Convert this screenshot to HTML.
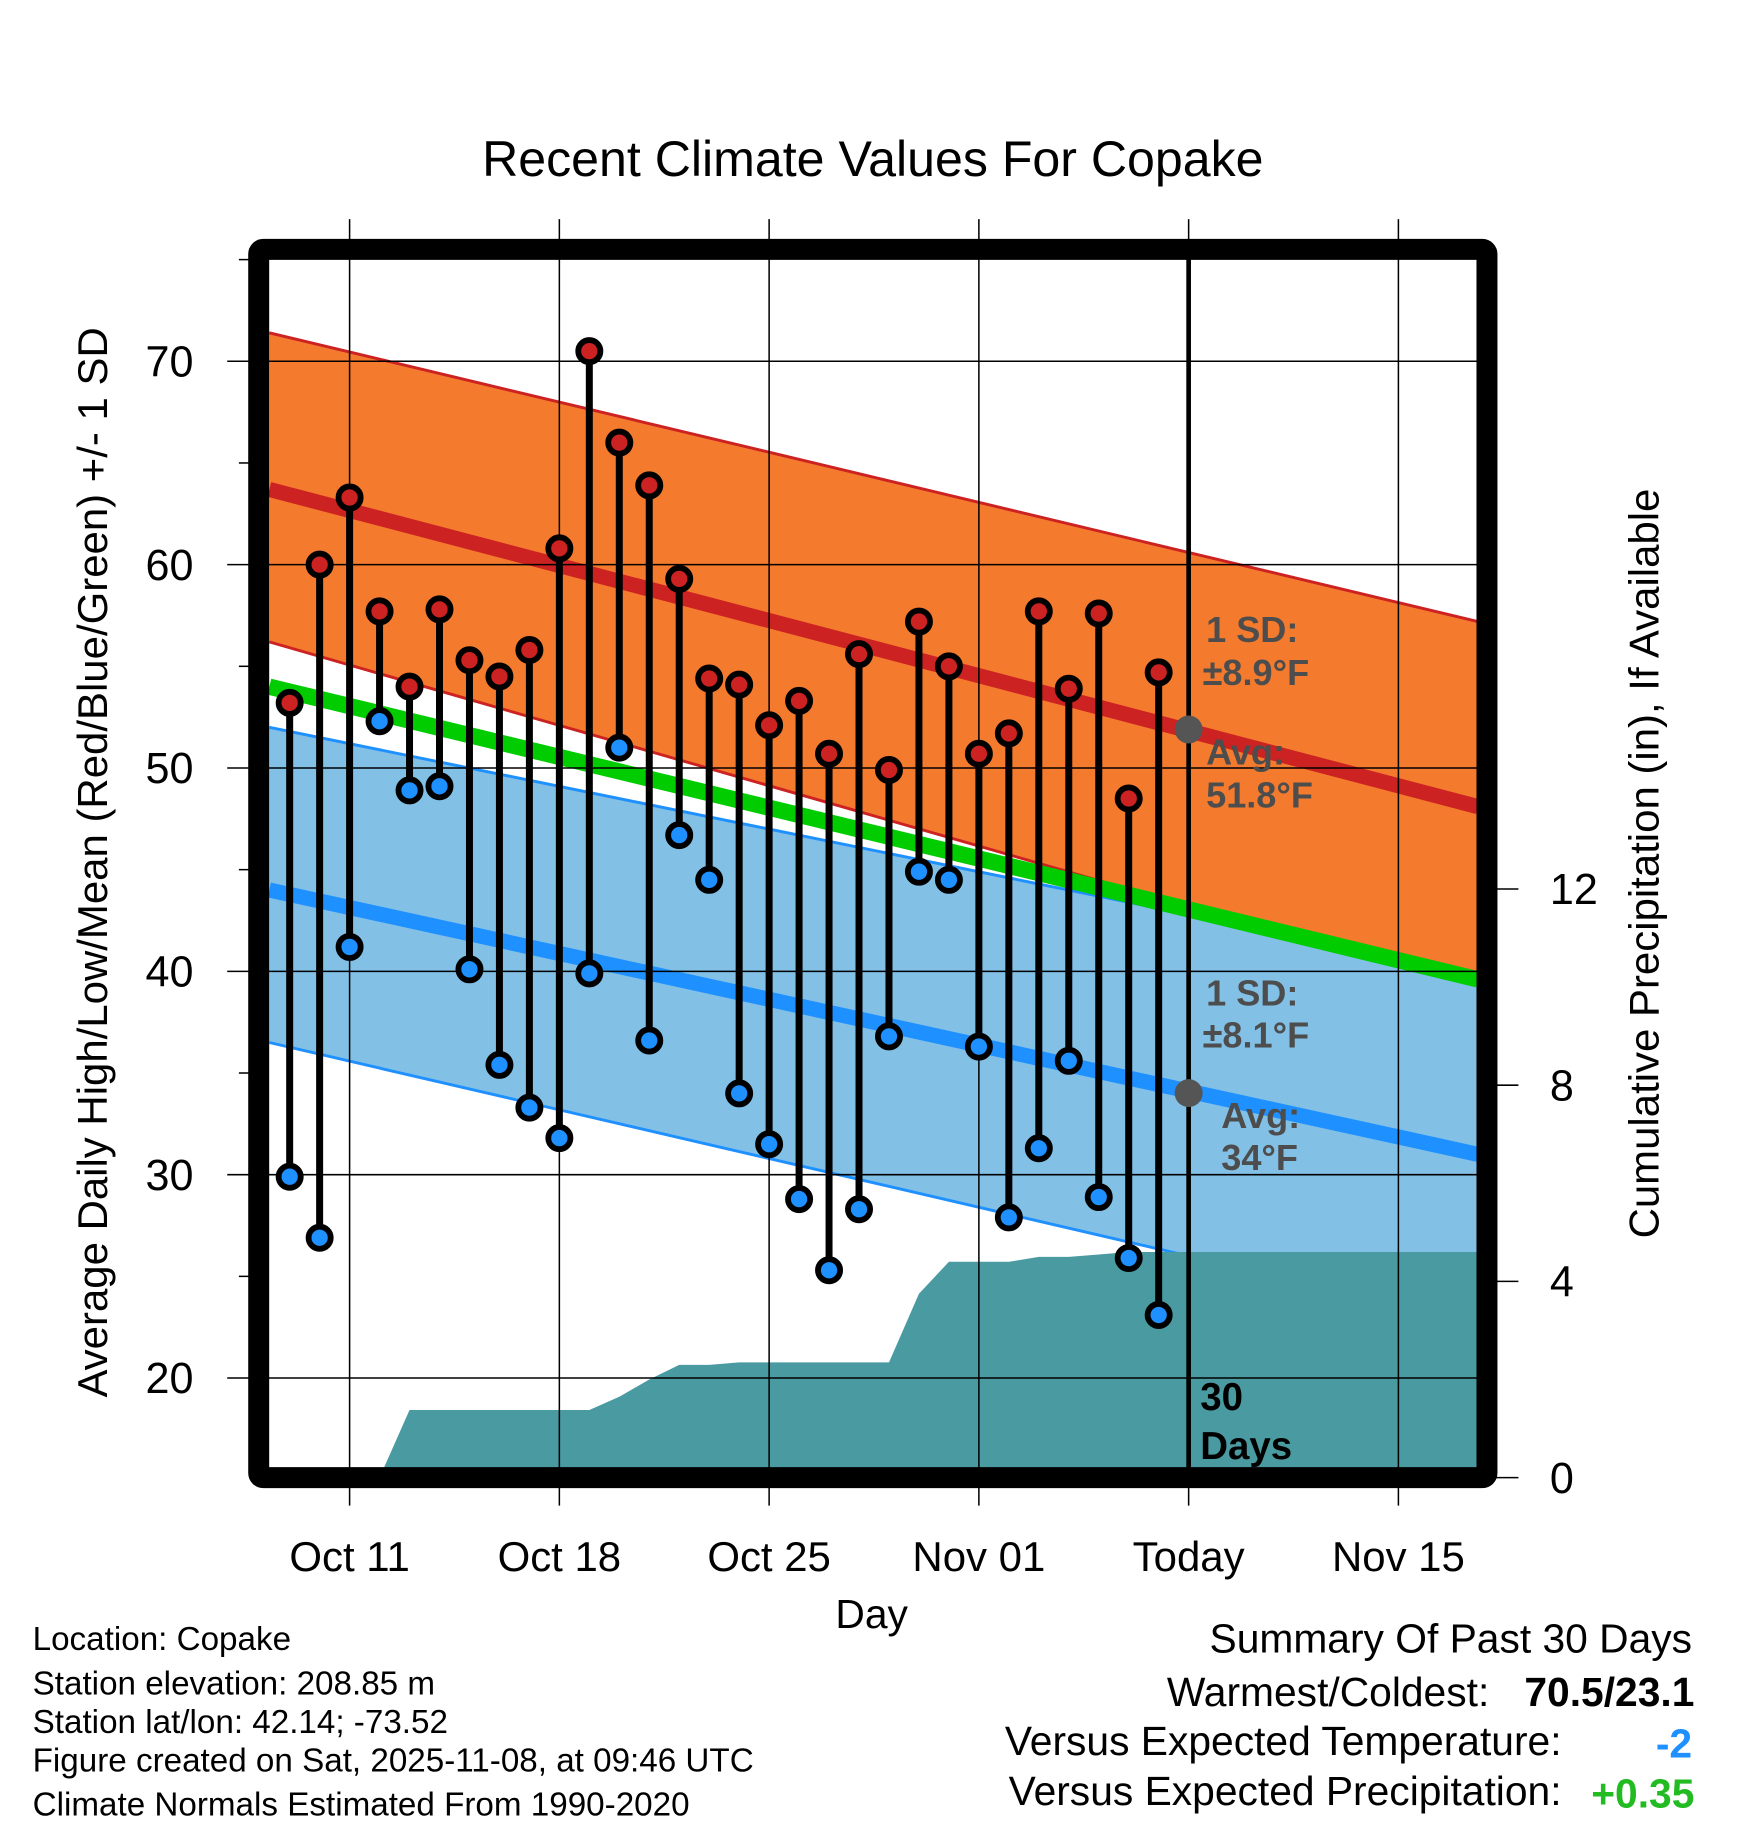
<!DOCTYPE html>
<html><head><meta charset="utf-8"><style>
html,body{margin:0;padding:0;background:#fff;}
svg{display:block;font-family:"Liberation Sans",Arial,sans-serif;}
</style></head><body>
<svg id="chart" width="1748" height="1828" viewBox="0 0 1500 1568.6" xmlns="http://www.w3.org/2000/svg">
<text x="749" y="151" font-size="43" text-anchor="middle">Recent Climate Values For Copake</text>
<g id="plot"></g>
<text transform="translate(92,740) rotate(-90)" font-size="36" text-anchor="middle">Average Daily High/Low/Mean (Red/Blue/Green) +/- 1 SD</text>
<text transform="translate(1423,741) rotate(-90)" font-size="36" text-anchor="middle">Cumulative Precipitation (in), If Available</text>
<text x="748" y="1397" font-size="35" text-anchor="middle">Day</text>
<g font-size="28.5">
<text x="28" y="1416">Location: Copake</text>
<text x="28" y="1454">Station elevation: 208.85 m</text>
<text x="28" y="1487">Station lat/lon: 42.14; -73.52</text>
<text x="28" y="1520">Figure created on Sat, 2025-11-08, at 09:46 UTC</text>
<text x="28" y="1558">Climate Normals Estimated From 1990-2020</text>
</g>
<g font-size="35">
<text x="1452" y="1418" text-anchor="end">Summary Of Past 30 Days</text>
<text x="1278" y="1464" text-anchor="end">Warmest/Coldest:</text>
<text x="1454" y="1464" text-anchor="end" font-weight="bold">70.5/23.1</text>
<text x="1340" y="1506" text-anchor="end">Versus Expected Temperature:</text>
<text x="1452" y="1508" text-anchor="end" font-weight="bold" fill="#1e90ff">-2</text>
<text x="1340" y="1549" text-anchor="end">Versus Expected Precipitation:</text>
<text x="1454" y="1551" text-anchor="end" font-weight="bold" fill="#22bb22">+0.35</text>
</g>
</svg>
<script>
// days relative to Oct 11 (0)
const days = [-2,-1,0,1,2,3,4,5,6,7,8,9,10,11,12,13,14,15,16,17,18,19,20,21,22,23,24,25,26,27];
const highs = [53.2,60.0,63.3,57.7,54.0,57.8,55.3,54.5,55.8,60.8,70.5,66.0,63.9,59.3,54.4,54.1,52.1,53.3,50.7,55.6,49.9,57.2,55.0,50.7,51.7,57.7,53.9,57.6,48.5,54.7];
const lows = [29.9,26.9,41.2,52.3,48.9,49.1,40.1,35.4,33.3,31.8,39.9,51.0,36.6,46.7,44.5,34.0,31.5,28.8,25.3,28.3,36.8,44.9,44.5,36.3,27.9,31.3,35.6,28.9,25.9,23.1];
const precipDays = [1,2,3,4,5,6,7,8,9,10,11,12,13,14,15,16,17,18,19,20,21,22,23,24,25,26,27];
const precipCum = [0,1.38,1.38,1.38,1.38,1.38,1.38,1.38,1.65,2.0,2.3,2.3,2.35,2.35,2.35,2.35,2.35,2.35,3.75,4.4,4.4,4.4,4.5,4.5,4.55,4.6,4.6];
// normals at plot start / end
const normalEnds = [-2.68, 37.65];
const highMean = [63.7, 48.1];
const highUpper = [71.4, 57.2];
const highLower = [56.2, 39.1];
const lowMean = [44.0, 31.0];
const lowUpper = [52.0, 39.9];
const lowLower = [36.5, 22.7];
const meanLine = [54.0, 39.6];
const yTicks = [20,30,40,50,60,70];
const yMinor = [25,35,45,55,65,75];
const y2Ticks = [0,4,8,12];
const xTickDays = [0,7,14,21,28,35];
const xTickLabels = ["Oct 11","Oct 18","Oct 25","Nov 01","Today","Nov 15"];
const todayDay = 28;

const L=231,R=1268,T=222,B=1260;
const X = d => 300 + d*180/7;
const Y = v => 310 + (70 - v)*17.45;
const Y2 = p => 1268 - p*42.1;
const NS="http://www.w3.org/2000/svg";
const g=document.getElementById('plot');
function mk(tag, attrs){const e=document.createElementNS(NS,tag);for(const k in attrs)e.setAttribute(k,attrs[k]);g.appendChild(e);return e;}
function band(up,lo){return `${X(normalEnds[0])},${Y(up[0])} ${X(normalEnds[1])},${Y(up[1])} ${X(normalEnds[1])},${Y(lo[1])} ${X(normalEnds[0])},${Y(lo[0])}`;}
function line(a){return {x1:X(normalEnds[0]),y1:Y(a[0]),x2:X(normalEnds[1]),y2:Y(a[1])};}

let e;
e=mk('polygon',{points:band(highUpper,highLower),fill:'#f47a2e'});


e=mk('line',Object.assign(line(highUpper),{stroke:'#cc2222','stroke-width':2.5}));


e=mk('line',Object.assign(line(highLower),{stroke:'#cc2222','stroke-width':2.5}));


e=mk('polygon',{points:band(lowUpper,lowLower),fill:'#82c0e6'});


e=mk('line',Object.assign(line(lowUpper),{stroke:'#1e90ff','stroke-width':2.5}));


e=mk('line',Object.assign(line(lowLower),{stroke:'#1e90ff','stroke-width':2.5}));


e=mk('line',Object.assign(line(highMean),{stroke:'#cc2222','stroke-width':13}));


e=mk('line',Object.assign(line(lowMean),{stroke:'#1e90ff','stroke-width':13}));


e=mk('line',Object.assign(line(meanLine),{stroke:'#00cc00','stroke-width':14}));



// precipitation area
let pts=`${X(precipDays[0])},${Y2(0)} `;
precipDays.forEach((d,i)=>{pts+=`${X(d)},${Y2(precipCum[i])} `;});
pts+=`${R},${Y2(precipCum[precipCum.length-1])} ${R},${B} ${X(precipDays[0])},${B}`;
e=mk('polygon',{points:pts,fill:'#4a9aa2'});



// grid
yTicks.forEach(v=>{
  e=mk('line',{x1:195,y1:Y(v),x2:R,y2:Y(v),stroke:'#000','stroke-width':1.3});
  
  
  e=mk('text',{x:166,y:Y(v)+13,'font-size':37,'text-anchor':'end'});
  e.textContent=v;
  
  
});
yMinor.forEach(v=>{
  e=mk('line',{x1:205,y1:Y(v),x2:214,y2:Y(v),stroke:'#000','stroke-width':1.3});
  
  
});
xTickDays.forEach((d,i)=>{
  e=mk('line',{x1:X(d),y1:188,x2:X(d),y2:1292,stroke:'#000','stroke-width':1.3});
  
  
  e=mk('text',{x:X(d),y:1348,'font-size':36,'text-anchor':'middle'});
  e.textContent=xTickLabels[i];
  
  
});
y2Ticks.forEach(p=>{
  e=mk('line',{x1:1276,y1:Y2(p),x2:1303,y2:Y2(p),stroke:'#000','stroke-width':1.3});
  
  
  e=mk('text',{x:1330,y:Y2(p)+13,'font-size':37});
  e.textContent=p;
  
  
});

// today line
e=mk('line',{x1:X(todayDay),y1:T,x2:X(todayDay),y2:B,stroke:'#000','stroke-width':4});



// stems and markers
days.forEach((d,i)=>{
  e=mk('line',{x1:X(d),y1:Y(highs[i]),x2:X(d),y2:Y(lows[i]),stroke:'#000','stroke-width':6});
  
  
});
days.forEach((d,i)=>{
  e=mk('circle',{cx:X(d),cy:Y(highs[i]),r:9.5,fill:'#cc2222',stroke:'#000','stroke-width':5});
  
  
  e=mk('circle',{cx:X(d),cy:Y(lows[i]),r:9.5,fill:'#1e90ff',stroke:'#000','stroke-width':5});
  
  
});

// frame
e=mk('rect',{x:222,y:214,width:1054,height:1054,fill:'none',stroke:'#000','stroke-width':18,rx:4});



// annotations
function ann(txt,x,y,name,fill,size){
  e=mk('text',{x:x,y:y,'font-size':size||31,'font-weight':'bold',fill:fill||'#4d4d4d'});
  e.textContent=txt;
  
  
}
e=mk('circle',{cx:X(todayDay),cy:626,r:12,fill:'#555'});


e=mk('circle',{cx:X(todayDay),cy:938,r:12,fill:'#555'});


ann('1 SD:',1035,551,'high-sd-label');
ann('±8.9°F',1032,588,'high-sd-value');
ann('Avg:',1035,656,'high-avg-label');
ann('51.8°F',1035,693,'high-avg-value');
ann('1 SD:',1035,863,'low-sd-label');
ann('±8.1°F',1032,899,'low-sd-value');
ann('Avg:',1048,968,'low-avg-label');
ann('34°F',1048,1004,'low-avg-value');
ann('30',1030,1210,'days-count-label','#000',33);
ann('Days',1030,1252,'days-count-label-2','#000',33);
</script>
</body></html>
